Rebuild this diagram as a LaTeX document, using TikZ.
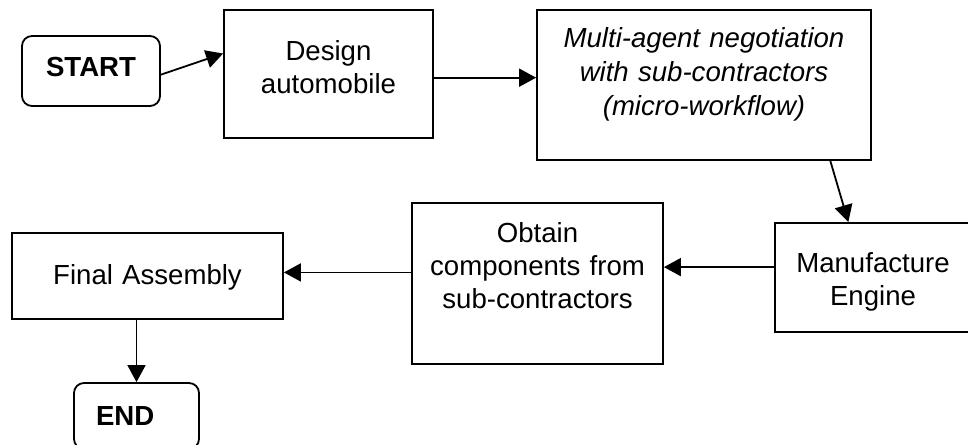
\documentclass[tikz,border=0pt]{standalone}
\usepackage{fontspec}
\setmainfont{Liberation Sans}
\usetikzlibrary{arrows.meta}

\begin{document}
\begin{tikzpicture}[x=0.5pt,y=-0.5pt,
		font=\fontsize{13.8pt}{16.5pt}\selectfont,
		box/.style={draw,line width=0.9pt,inner sep=0pt,align=center},
		term/.style={box,rounded corners=5pt,font=\fontsize{13.8pt}{16.5pt}\selectfont\bfseries},
		flow/.style={-{Triangle[length=8.5pt,width=9pt]},line width=0.9pt}]
	\useasboundingbox (0,0) rectangle (968,444);
	% upper row
	\node[term,text width=69pt,text height=20.5pt,text depth=14.5pt] (start) at (91,71) {START};
	\node[box,text width=104.5pt,text height=25.5pt,text depth=38.5pt] (design) at (328.5,74) {Design\\automobile};
	\node[box,font=\fontsize{13.8pt}{16.8pt}\selectfont\itshape,text width=167pt,text height=19pt,text depth=56pt] (nego) at (704,85)
		{Multi-agent negotiation\\with sub-contractors\\(micro-workflow)};
	% lower row
	\node[box,text width=98pt,text height=24.5pt,text depth=30pt] (engine) at (873,277.5) {Manufacture\\Engine};
	\node[box,text width=125.5pt,text height=19.5pt,text depth=61pt] (obtain) at (537.5,283.5)
		{Obtain\\components from\\sub-contractors};
	\node[box,text width=135.5pt,text height=25.5pt,text depth=17.5pt] (final) at (147.5,276) {Final Assembly};
	\node[term,align=left,text width=62.5pt,text height=21pt,text depth=12pt] (end) at (136.5,416) {\hspace*{11pt}END};
	% connectors
	\draw[flow] (start.-3) -- (design.169);
	\draw[flow] (design.-2) -- (design.-2 -| nego.west);
	\draw[flow] (nego.-31) -- (engine.114);
	\draw[flow] (engine.174) -- (engine.174 -| obtain.east);
	\draw[flow] (obtain.175) -- (obtain.175 -| final.east);
	\draw[flow] (final.south -| end.north) -- (end.north);
\end{tikzpicture}
\end{document}
